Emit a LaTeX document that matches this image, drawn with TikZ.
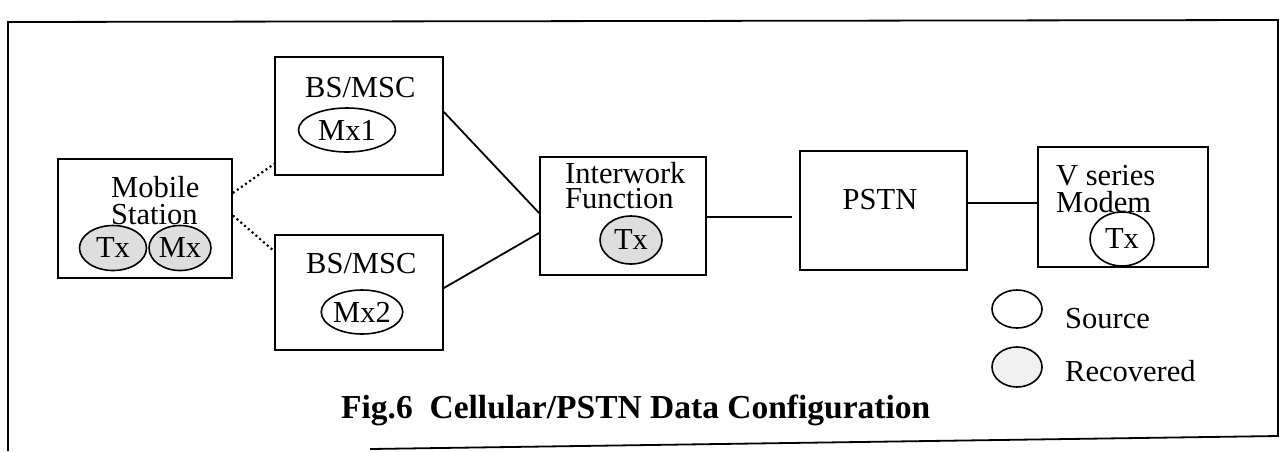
\documentclass[tikz,border=0pt]{standalone}
\usepackage{fontspec}
\setmainfont{Liberation Serif}
\usetikzlibrary{shapes.geometric}
\begin{document}
\begin{tikzpicture}[x=1pt,y=-1pt,
  every node/.style={font=\fontsize{30.5}{30.5}\selectfont},
  box/.style={draw,line width=1.8pt,rectangle,inner sep=0pt},
  oval/.style={draw,line width=1.6pt,ellipse,inner sep=0pt},
  recov/.style={oval,fill=black!13},
  lbl/.style={inner sep=0pt,anchor=base west},
  stack/.style={lbl,align=left,font=\fontsize{30.5}{27}\selectfont},
  link/.style={line width=1.8pt},
  radiolink/.style={line width=2.2pt,dash pattern=on 2pt off 3pt}]
\useasboundingbox (0,0) rectangle (1281,451);
% frame
\draw[line width=1.8pt] (8,451) -- (8,22) -- (1278,20) -- (1278,436) -- (370,449);
% Mobile Station
\node[box,minimum width=174pt,minimum height=119pt] (ms) at (145,218.5) {};
\node[stack] (mst) at (111,224) {Mobile\\Station};
\node[recov,minimum width=67pt,minimum height=45pt] (mstx) at (113,248) {Tx};
\node[recov,minimum width=62pt,minimum height=45pt] (msmx) at (180,248) {Mx};
% BS/MSC 1
\node[box,minimum width=168pt,minimum height=118pt] (bs1) at (359,116) {};
\node[lbl] (bs1t) at (305,97) {BS/MSC};
\node[oval,minimum width=97pt,minimum height=44pt] (mx1) at (347,130) {Mx1};
% BS/MSC 2
\node[box,minimum width=168pt,minimum height=115pt] (bs2) at (359,292.5) {};
\node[lbl] (bs2t) at (306,273) {BS/MSC};
\node[oval,minimum width=75pt,minimum height=44pt] (mx2) at (362,312) {Mx2};
% Interwork Function
\node[box,minimum width=166pt,minimum height=118pt] (iwf) at (623,216) {};
\node[stack,font=\fontsize{30.5}{25}\selectfont] (iwft) at (565,208) {Interwork\\Function};
\node[recov,minimum width=62pt,minimum height=48pt] (iwftx) at (631,240) {Tx};
% PSTN
\node[box,minimum width=167pt,minimum height=119pt] (pstn) at (883.5,210.5) {};
\node[inner sep=0pt] (pstnt) at (880,200) {PSTN};
% V series Modem
\node[box,minimum width=170pt,minimum height=120pt] (modem) at (1123,207) {};
\node[stack] (modt) at (1056,212) {V series\\Modem};
\node[oval,minimum width=64pt,minimum height=54pt] (modtx) at (1122,239) {Tx};
% connectors
\draw[radiolink] ([yshift=25.5pt]ms.east) -- ([yshift=12pt]bs1.south west);
\draw[radiolink] ([yshift=3pt]ms.east) -- ([yshift=-17pt]bs2.north west);
\draw[link] ([yshift=4pt]bs1.east) -- ([yshift=3pt]iwf.west);
\draw[link] ([yshift=4.5pt]bs2.east) -- ([yshift=-17pt]iwf.west);
\draw[link,shorten >=7pt] ([yshift=-1pt]iwf.east) -- ([yshift=-6.5pt]pstn.west);
\draw[link] ([yshift=7.5pt]pstn.east) -- ([yshift=4pt]modem.west);
% legend
\node[oval,minimum width=50pt,minimum height=38pt] (lsrc) at (1017,309) {};
\node[lbl] (lsrct) at (1065,328) {Source};
\node[oval,fill=black!6,minimum width=50pt,minimum height=40pt] (lrec) at (1017,367) {};
\node[lbl] (lrect) at (1065,381) {Recovered};
% caption
\node[lbl,font=\fontsize{33.5}{33.5}\selectfont\bfseries] (cap) at (341,418) {Fig.6\ \ Cellular/PSTN Data Configuration};
\end{tikzpicture}
\end{document}
